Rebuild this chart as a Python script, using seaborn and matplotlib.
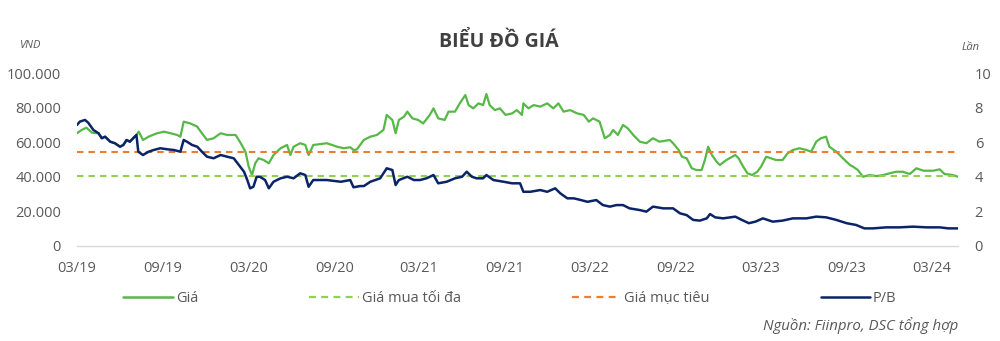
import matplotlib
matplotlib.use("Agg")
import matplotlib.pyplot as plt
import matplotlib.ticker as mticker
import matplotlib.dates as mdates
from matplotlib.lines import Line2D
import pandas as pd
import seaborn as sns

# ---- data -------------------------------------------------------------
price_dates = [
    "2019-03-01", "2019-03-11", "2019-03-21", "2019-04-02", "2019-04-16", "2019-04-23",
    "2019-04-30", "2019-05-11", "2019-05-21", "2019-06-01", "2019-06-08", "2019-06-15",
    "2019-06-22", "2019-06-29", "2019-07-06", "2019-07-11", "2019-07-20", "2019-08-01",
    "2019-08-19", "2019-09-03", "2019-09-17", "2019-10-01", "2019-10-08", "2019-10-15",
    "2019-10-29", "2019-11-13", "2019-11-23", "2019-12-04", "2019-12-18", "2020-01-02",
    "2020-01-16", "2020-02-03", "2020-02-14", "2020-02-24", "2020-03-02", "2020-03-09",
    "2020-03-16", "2020-03-23", "2020-04-03", "2020-04-14", "2020-04-24", "2020-05-09",
    "2020-05-23", "2020-05-30", "2020-06-06", "2020-06-20", "2020-07-01", "2020-07-08",
    "2020-07-18", "2020-08-16", "2020-09-07", "2020-09-21", "2020-10-05", "2020-10-12",
    "2020-10-19", "2020-11-03", "2020-11-17", "2020-12-01", "2020-12-15", "2020-12-22",
    "2021-01-03", "2021-01-10", "2021-01-17", "2021-01-28", "2021-02-04", "2021-02-15",
    "2021-02-27", "2021-03-10", "2021-03-24", "2021-04-01", "2021-04-11", "2021-04-25",
    "2021-05-03", "2021-05-17", "2021-05-27", "2021-06-08", "2021-06-15", "2021-06-25",
    "2021-07-06", "2021-07-16", "2021-07-23", "2021-07-30", "2021-08-10", "2021-08-21",
    "2021-09-02", "2021-09-16", "2021-09-26", "2021-10-07", "2021-10-10", "2021-10-21",
    "2021-11-01", "2021-11-15", "2021-11-30", "2021-12-13", "2021-12-24", "2022-01-04",
    "2022-01-18", "2022-02-02", "2022-02-16", "2022-02-27", "2022-03-08", "2022-03-22",
    "2022-04-02", "2022-04-13", "2022-04-20", "2022-04-30", "2022-05-11", "2022-05-21",
    "2022-06-02", "2022-06-16", "2022-06-30", "2022-07-14", "2022-07-28", "2022-08-19",
    "2022-08-26", "2022-09-07", "2022-09-14", "2022-09-24", "2022-10-05", "2022-10-15",
    "2022-10-26", "2022-11-02", "2022-11-09", "2022-11-17", "2022-11-27", "2022-12-04",
    "2022-12-18", "2023-01-06", "2023-01-13", "2023-01-23", "2023-02-01", "2023-02-11",
    "2023-02-22", "2023-03-02", "2023-03-13", "2023-03-23", "2023-04-03", "2023-04-17",
    "2023-04-28", "2023-05-09", "2023-05-23", "2023-06-07", "2023-06-17", "2023-06-28",
    "2023-07-08", "2023-07-19", "2023-07-26", "2023-08-10", "2023-08-24", "2023-09-08",
    "2023-09-15", "2023-09-25", "2023-10-06", "2023-10-20", "2023-11-04", "2023-11-18",
    "2023-12-02", "2023-12-16", "2023-12-30", "2024-01-14", "2024-01-28", "2024-02-12",
    "2024-03-04", "2024-03-18", "2024-03-28", "2024-04-15", "2024-04-26",
]
price_values = [
    65300, 67200, 68500, 65600, 65300, 62400,
    63300, 60400, 59500, 57500, 58500, 61400,
    60400, 62400, 64300, 66200, 61400, 63300,
    65300, 66200, 65300, 64300, 63300, 72000,
    71000, 69100, 65300, 61400, 62400, 65300,
    64300, 64300, 59500, 54600, 45900, 41100,
    47900, 50800, 49800, 47900, 52700, 56600,
    58500, 52700, 57500, 59500, 58500, 52700,
    58500, 59500, 57500, 56600, 57200, 55600,
    55900, 61400, 63300, 64300, 67200, 75900,
    73000, 65300, 73000, 74900, 77800, 73900,
    73000, 71000, 75900, 79700, 73900, 73000,
    77800, 77800, 82600, 87400, 81600, 79700,
    82600, 81600, 88000, 81600, 78700, 79700,
    75900, 76800, 78700, 75900, 82600, 79700,
    81600, 80700, 82600, 79700, 82600, 77800,
    78700, 76800, 75900, 72000, 73900, 72000,
    62400, 64300, 67200, 64300, 70100, 68200,
    64300, 60400, 59500, 62400, 60400, 61400,
    59500, 55600, 51700, 50800, 45000, 44000,
    44000, 49800, 57500, 52700, 48800, 46900,
    49800, 52700, 50800, 45900, 42100, 41100,
    43000, 45900, 51700, 50800, 49800, 49800,
    53700, 55600, 56600, 55600, 54600, 60400,
    62400, 63300, 57500, 54600, 50800, 46900,
    45900, 44000, 40100, 41100, 40500, 41100,
    42100, 43000, 43000, 41700, 45000, 43600,
    43600, 44400, 41700, 41100, 40100,
]

pb_dates = [
    "2019-03-01", "2019-03-07", "2019-03-18", "2019-03-25", "2019-04-05", "2019-04-16",
    "2019-04-23", "2019-04-30", "2019-05-11", "2019-05-21", "2019-06-01", "2019-06-08",
    "2019-06-15", "2019-06-22", "2019-06-29", "2019-07-06", "2019-07-10", "2019-07-20",
    "2019-08-01", "2019-08-12", "2019-08-26", "2019-09-10", "2019-09-24", "2019-10-08",
    "2019-10-15", "2019-10-22", "2019-11-02", "2019-11-13", "2019-11-23", "2019-12-04",
    "2019-12-18", "2020-01-02", "2020-01-16", "2020-01-30", "2020-02-10", "2020-02-21",
    "2020-02-28", "2020-03-05", "2020-03-12", "2020-03-19", "2020-03-26", "2020-04-06",
    "2020-04-14", "2020-04-24", "2020-05-09", "2020-05-23", "2020-06-06", "2020-06-20",
    "2020-07-01", "2020-07-08", "2020-07-18", "2020-08-16", "2020-09-15", "2020-10-05",
    "2020-10-12", "2020-10-26", "2020-11-03", "2020-11-17", "2020-12-08", "2020-12-22",
    "2021-01-03", "2021-01-10", "2021-01-17", "2021-02-04", "2021-02-18", "2021-03-03",
    "2021-03-17", "2021-04-01", "2021-04-11", "2021-04-29", "2021-05-17", "2021-06-01",
    "2021-06-11", "2021-06-22", "2021-07-02", "2021-07-16", "2021-07-23", "2021-08-07",
    "2021-08-29", "2021-09-16", "2021-10-03", "2021-10-10", "2021-10-25", "2021-11-15",
    "2021-11-30", "2021-12-17", "2021-12-28", "2022-01-12", "2022-01-26", "2022-02-10",
    "2022-02-24", "2022-03-15", "2022-03-29", "2022-04-13", "2022-04-27", "2022-05-11",
    "2022-05-25", "2022-06-16", "2022-06-30", "2022-07-14", "2022-08-05", "2022-08-26",
    "2022-09-10", "2022-09-24", "2022-10-08", "2022-10-22", "2022-11-06", "2022-11-13",
    "2022-11-24", "2022-12-11", "2023-01-06", "2023-01-20", "2023-02-04", "2023-02-18",
    "2023-03-06", "2023-03-27", "2023-04-17", "2023-05-09", "2023-06-07", "2023-06-28",
    "2023-07-19", "2023-08-10", "2023-09-01", "2023-09-21", "2023-10-09", "2023-10-27",
    "2023-11-25", "2023-12-23", "2024-01-21", "2024-02-19", "2024-03-18", "2024-04-05",
    "2024-04-26",
]
pb_values = [
    7.01, 7.20, 7.30, 7.14, 6.72, 6.53,
    6.24, 6.33, 6.04, 5.95, 5.75, 5.85,
    6.14, 6.04, 6.24, 6.43, 5.46, 5.27,
    5.46, 5.56, 5.66, 5.60, 5.56, 5.46,
    6.14, 6.04, 5.85, 5.75, 5.46, 5.17,
    5.08, 5.27, 5.17, 5.08, 4.69, 4.30,
    3.82, 3.34, 3.43, 4.01, 4.01, 3.82,
    3.34, 3.72, 3.92, 4.01, 3.92, 4.21,
    4.11, 3.43, 3.82, 3.82, 3.72, 3.82,
    3.40, 3.47, 3.47, 3.72, 3.92, 4.50,
    4.40, 3.53, 3.82, 4.01, 3.82, 3.82,
    3.92, 4.11, 3.63, 3.72, 3.92, 4.01,
    4.30, 4.01, 3.92, 3.92, 4.11, 3.82,
    3.72, 3.63, 3.63, 3.14, 3.14, 3.24,
    3.14, 3.34, 3.05, 2.76, 2.76, 2.66,
    2.56, 2.66, 2.37, 2.28, 2.37, 2.37,
    2.18, 2.08, 1.99, 2.28, 2.18, 2.18,
    1.89, 1.79, 1.51, 1.47, 1.60, 1.85,
    1.66, 1.60, 1.70, 1.51, 1.32, 1.41,
    1.60, 1.41, 1.47, 1.60, 1.60, 1.70,
    1.66, 1.51, 1.32, 1.22, 1.02, 1.02,
    1.08, 1.08, 1.12, 1.08, 1.08, 1.02,
    1.02,
]

max_buy_price = 40400   # Giá mua tối đa
target_price = 54600    # Giá mục tiêu

series_labels = ["Giá", "Giá mua tối đa", "Giá mục tiêu", "P/B"]
title_text = "BIỂU ĐỒ GIÁ"
left_unit = "VND"
right_unit = "Lần"
source_text = "Nguồn: Fiinpro, DSC tổng hợp"

# ---- style ------------------------------------------------------------
GREEN = "#56B947"
LIGHT_GREEN = "#92D050"
ORANGE = "#ED7D31"
NAVY = "#0B2468"
TEXT = "#595959"
AXIS = "#D9D9D9"

sns.set_theme(style="white")
plt.rcParams["font.family"] = ["Open Sans", "DejaVu Sans"]

price_df = pd.DataFrame({"date": pd.to_datetime(price_dates), "value": price_values})
pb_df = pd.DataFrame({"date": pd.to_datetime(pb_dates), "value": pb_values})

fig = plt.figure(figsize=(10, 3.41), dpi=100)
ax = fig.add_axes([0.077, 0.2786, 0.881, 0.5064])
ax2 = ax.twinx()

sns.lineplot(data=price_df, x="date", y="value", ax=ax, color=GREEN,
             linewidth=1.6, legend=False)
ax.axhline(max_buy_price, color=LIGHT_GREEN, linewidth=1.5, dashes=(3.1, 2.4))
ax.axhline(target_price, color=ORANGE, linewidth=1.5, dashes=(3.1, 2.4))
sns.lineplot(data=pb_df, x="date", y="value", ax=ax2, color=NAVY,
             linewidth=1.8, legend=False)

# axes limits and ticks
ax.set_xlim(price_df["date"].min(), price_df["date"].max())
ax.set_ylim(0, 100000)
ax2.set_ylim(0, 10)
ax.yaxis.set_major_locator(mticker.MultipleLocator(20000))
ax.yaxis.set_major_formatter(
    mticker.FuncFormatter(lambda v, _: f"{int(v):,}".replace(",", ".")))
ax2.yaxis.set_major_locator(mticker.MultipleLocator(2))
ax2.yaxis.set_major_formatter(mticker.FuncFormatter(lambda v, _: f"{int(v)}"))
ax.xaxis.set_major_locator(mdates.MonthLocator(bymonth=[3, 9]))
ax.xaxis.set_major_formatter(mdates.DateFormatter("%m/%y"))

for a in (ax, ax2):
    a.set_xlabel("")
    a.set_ylabel("")
    a.grid(False)
    for side in ("left", "right", "top"):
        a.spines[side].set_visible(False)
    a.spines["bottom"].set_color(AXIS)
    a.spines["bottom"].set_linewidth(1.0)
ax2.spines["bottom"].set_visible(False)

ax.tick_params(axis="x", length=3, width=1, color=AXIS, pad=8,
               labelsize=10.5, labelcolor=TEXT)
ax.tick_params(axis="y", length=0, pad=11.5, labelsize=10.5, labelcolor=TEXT)
ax2.tick_params(axis="y", length=0, pad=12, labelsize=10.5, labelcolor=TEXT)

# titles and units
fig.text(0.499, 1 - 42 / 341, title_text, ha="center", va="center",
         fontsize=14, fontweight="bold", color="#404040")
fig.text(0.031, 1 - 46 / 341, left_unit, ha="center", va="center",
         fontsize=8, style="italic", color=TEXT)
fig.text(0.971, 1 - 47 / 341, right_unit, ha="center", va="center",
         fontsize=8, style="italic", color=TEXT)

# legend
handles = [
    Line2D([], [], color=GREEN, linewidth=1.8),
    Line2D([], [], color=LIGHT_GREEN, linewidth=1.6, dashes=(3.1, 2.4)),
    Line2D([], [], color=ORANGE, linewidth=1.6, dashes=(3.1, 2.4)),
    Line2D([], [], color=NAVY, linewidth=1.8),
]
fig.legend(handles, series_labels, loc="center", ncol=4,
           bbox_to_anchor=(0.51, 1 - 299 / 341), frameon=False,
           fontsize=10.5, labelcolor=TEXT, handlelength=3.4,
           handletextpad=0.2, columnspacing=7.6)

fig.text(0.958, 1 - 326 / 341, source_text, ha="right", va="center",
         fontsize=10.8, style="italic", color=TEXT)

fig.savefig("out.png", dpi=100)
